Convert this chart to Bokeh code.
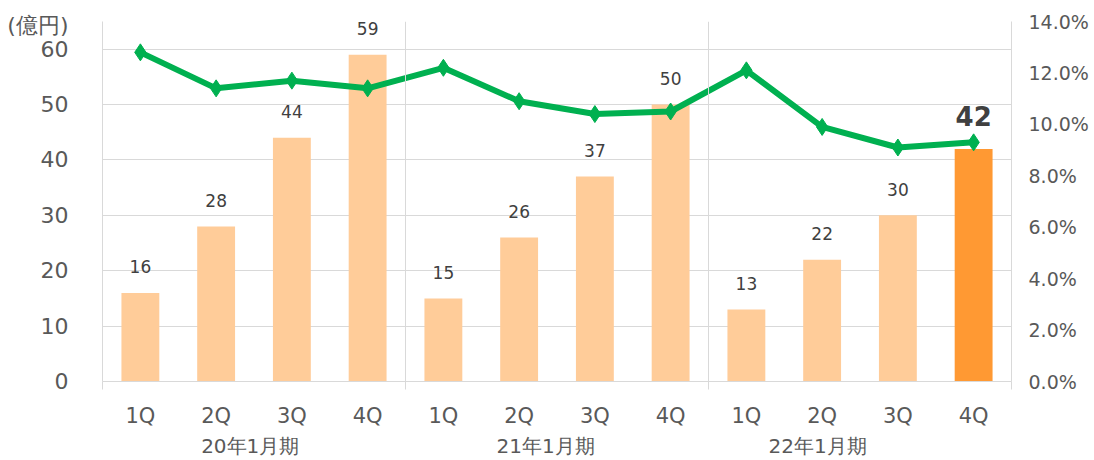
from bokeh.plotting import figure
from bokeh.models import (Range1d, LinearAxis, FixedTicker, PrintfTickFormatter,
                          ColumnDataSource, Span, Grid)
from bokeh.core.properties import value
from bokeh.embed import file_html
from bokeh.resources import INLINE

quarters = ["1Q", "2Q", "3Q", "4Q", "1Q", "2Q", "3Q", "4Q", "1Q", "2Q", "3Q", "4Q"]
periods = ["20年1月期", "21年1月期", "22年1月期"]
sales = [16, 28, 44, 59, 15, 26, 37, 50, 13, 22, 30, 42]
margin_pct = [12.8, 11.4, 11.7, 11.4, 12.2, 10.9, 10.4, 10.5, 12.1, 9.9, 9.1, 9.3]
unit_label = "(億円)"

xs = list(range(len(quarters)))
bar_colors = ["#FFCC99"] * (len(sales) - 1) + ["#FF9933"]

GRID = "#D9D9D9"
TXT = "#595959"
NUMFONT = "DejaVu Sans"

W, H = 1094, 460
p = figure(width=W, height=H, output_backend="svg", toolbar_location=None,
           x_range=Range1d(-0.5, 11.5), y_range=Range1d(0, 65),
           min_border_left=102, min_border_right=83, min_border_top=21,
           min_border_bottom=79, x_axis_type=None, y_axis_type=None)
p.outline_line_color = None
p.extra_y_ranges = {"pct": Range1d(0, 14)}

# left axis (unit label carried as an extra tick label at the top)
UNIT_POS = 64.3
yl = LinearAxis(ticker=FixedTicker(ticks=[0, 10, 20, 30, 40, 50, 60, UNIT_POS], minor_ticks=[]),
                major_label_overrides={UNIT_POS: unit_label})
yl.axis_line_color = GRID
yl.major_tick_line_color = None
yl.major_tick_out = 0
yl.minor_tick_line_color = None
yl.major_label_text_font = NUMFONT
yl.major_label_text_font_size = "22px"
yl.major_label_text_color = TXT
yl.major_label_standoff = 34
p.add_layout(yl, "left")

# right axis
yr = LinearAxis(y_range_name="pct", ticker=FixedTicker(ticks=[0, 2, 4, 6, 8, 10, 12, 14]),
                formatter=PrintfTickFormatter(format="%.1f%%"))
yr.axis_line_color = GRID
yr.major_tick_line_color = None
yr.major_tick_out = 0
yr.minor_tick_line_color = None
yr.major_label_text_font = NUMFONT
yr.major_label_text_font_size = "19px"
yr.major_label_text_color = TXT
yr.major_label_standoff = 17
p.add_layout(yr, "right")

# bottom axis: quarter labels, boundary ticks drawn as minor ticks
xq = LinearAxis(ticker=FixedTicker(ticks=xs, minor_ticks=[-0.5, 3.5, 7.5, 11.5]),
                major_label_overrides={i: q for i, q in enumerate(quarters)})
xq.axis_line_color = GRID
xq.major_tick_line_color = None
xq.major_tick_out = 0
xq.major_tick_in = 0
xq.minor_tick_line_color = GRID
xq.minor_tick_in = 0
xq.minor_tick_out = 8
xq.major_label_text_font = NUMFONT
xq.major_label_text_font_size = "21px"
xq.major_label_text_color = TXT
xq.major_label_standoff = 14
p.add_layout(xq, "below")

# second bottom axis: fiscal period labels
period_pos = [1.45, 5.35, 8.94]
xp = LinearAxis(ticker=FixedTicker(ticks=period_pos, minor_ticks=[]),
                major_label_overrides={v: t for v, t in zip(period_pos, periods)})
xp.axis_line_color = None
xp.major_tick_line_color = None
xp.major_tick_out = 0
xp.major_tick_in = 0
xp.minor_tick_line_color = None
xp.major_label_text_font = NUMFONT
xp.major_label_text_font_size = "20px"
xp.major_label_text_color = TXT
xp.major_label_standoff = 3
p.add_layout(xp, "below")

# gridlines
g = Grid(dimension=1, ticker=FixedTicker(ticks=[10, 20, 30, 40, 50, 60]))
g.grid_line_color = GRID
p.add_layout(g)
for b in [3.5, 7.5]:
    p.add_layout(Span(location=b, dimension="height", line_color=GRID, line_width=1))

src = ColumnDataSource(dict(x=xs, y=sales, c=bar_colors, m=margin_pct))
p.vbar(x="x", top="y", width=0.5, fill_color="c", line_color=None, source=src)

# bar labels (last one bold/large)
lab = ColumnDataSource(dict(x=xs[:-1], y=sales[:-1], t=[str(v) for v in sales[:-1]]))
p.text(x="x", y="y", text="t", source=lab, text_align="center", text_baseline="middle",
       y_offset=-26, text_font=value(NUMFONT), text_font_size="17px", text_color="#404040")
lab2 = ColumnDataSource(dict(x=xs[-1:], y=sales[-1:], t=[str(v) for v in sales[-1:]]))
p.text(x="x", y="y", text="t", source=lab2, text_align="center", text_baseline="middle",
       y_offset=-33, text_font=value(NUMFONT), text_font_size="26px", text_font_style="bold",
       text_color="#404040")

# margin line
p.line(x="x", y="m", source=src, y_range_name="pct", line_color="#00B050", line_width=6)
p.scatter(x="x", y="m", source=src, y_range_name="pct", marker="diamond", size=17,
          fill_color="#00B050", line_color="#00B050")

open("out.html", "w").write(file_html(p, INLINE))
